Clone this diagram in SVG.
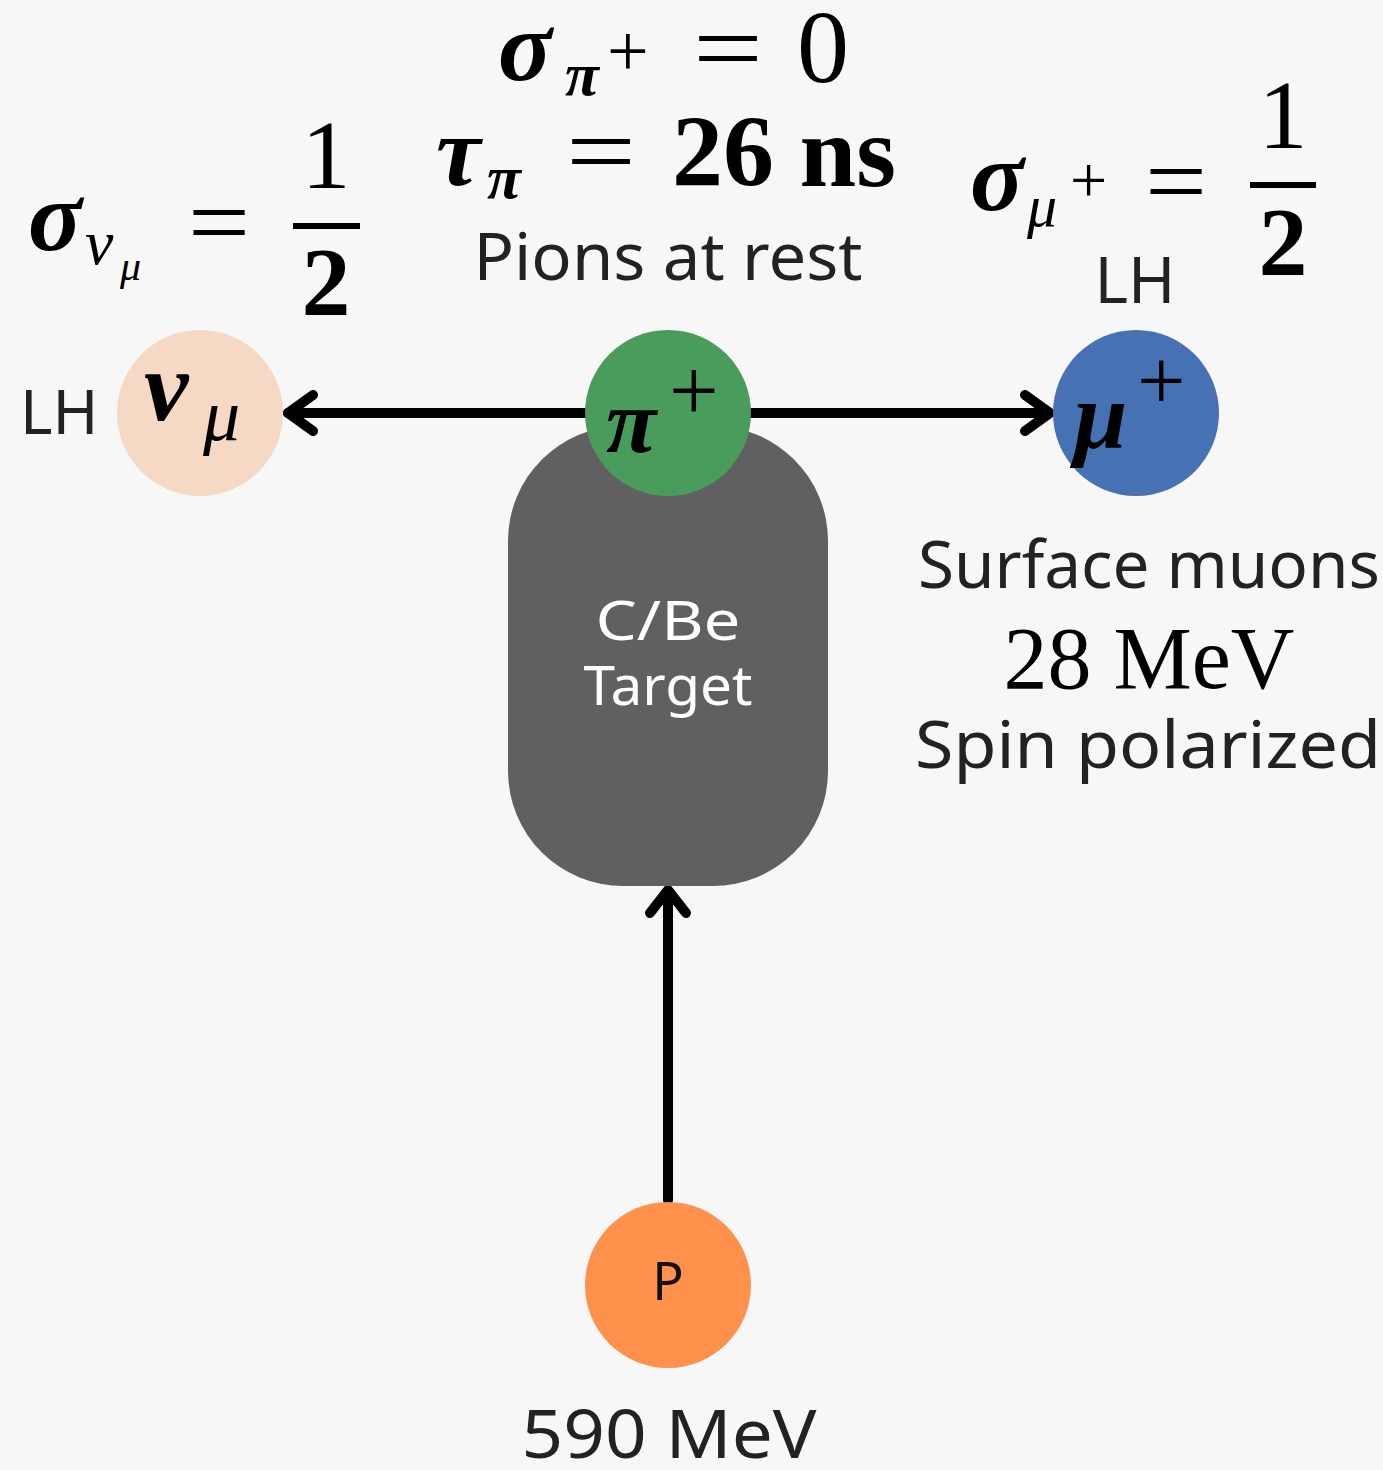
<svg xmlns="http://www.w3.org/2000/svg" width="1383" height="1470" viewBox="0 0 1383 1470">
<defs>
<style>
.sans{font-family:"Noto Sans","Lato","DejaVu Sans",sans-serif;fill:#222;}
.m{font-family:"Liberation Serif","DejaVu Serif",serif;fill:#000;}
.mi{font-family:"Liberation Serif","DejaVu Serif",serif;font-style:italic;fill:#000;}
.conn{fill:none;stroke:#000;stroke-width:10;stroke-linecap:round;stroke-linejoin:round;}
</style>
</defs>
<rect width="1383" height="1470" fill="#f7f7f7"/>

<g id="top-formula">
<text class="mi" x="498" y="80" font-size="100" font-weight="bold">σ</text>
<text class="mi" x="565" y="95" font-size="62" font-weight="bold">π</text>
<text class="m" x="607" y="76" font-size="74">+</text>
<text class="m" x="693" y="82" font-size="100" textLength="70" lengthAdjust="spacingAndGlyphs">=</text>
<text class="m" x="797" y="82" font-size="104">0</text>
<text class="mi" x="436" y="185" font-size="100" font-weight="bold">τ</text>
<text class="mi" x="487" y="198" font-size="62" font-weight="bold">π</text>
<text class="m" x="566" y="185" font-size="100" textLength="70" lengthAdjust="spacingAndGlyphs">=</text>
<text class="m" x="672" y="186" font-size="102" font-weight="bold">26 ns</text>
<text class="sans" x="668" y="280" font-size="66" text-anchor="middle" textLength="389" lengthAdjust="spacingAndGlyphs">Pions at rest</text>
</g>

<g id="left-formula">
<text class="mi" x="28" y="250" font-size="100" font-weight="bold">σ</text>
<text class="mi" x="85" y="264" font-size="64">ν</text>
<text class="mi" x="120" y="280" font-size="42">μ</text>
<text class="m" x="188" y="256" font-size="100" textLength="62" lengthAdjust="spacingAndGlyphs">=</text>
<text class="m" x="326" y="188" font-size="98" text-anchor="middle">1</text>
<rect x="293" y="223" width="67" height="6" fill="#000"/>
<text class="m" x="326" y="315" font-size="98" text-anchor="middle" font-weight="bold">2</text>
</g>

<g id="right-formula">
<text class="mi" x="970" y="210" font-size="100" font-weight="bold">σ</text>
<text class="mi" x="1027" y="226" font-size="60">μ</text>
<text class="m" x="1070" y="202" font-size="66">+</text>
<text class="m" x="1145" y="215" font-size="100" textLength="62" lengthAdjust="spacingAndGlyphs">=</text>
<text class="m" x="1283" y="148" font-size="98" text-anchor="middle">1</text>
<rect x="1250" y="182" width="66" height="6" fill="#000"/>
<text class="m" x="1283" y="275" font-size="98" text-anchor="middle" font-weight="bold">2</text>
</g>

<g id="connectors">
<line class="conn" x1="668" y1="1200" x2="668" y2="892"/>
<polyline class="conn" points="650,913 668,890 686,913"/>
<line class="conn" x1="590" y1="413" x2="288" y2="413"/>
<polyline class="conn" points="313,395 288,413 313,431"/>
<line class="conn" x1="750" y1="413" x2="1048" y2="413"/>
<polyline class="conn" points="1025,395 1050,413 1025,431"/>
</g>

<g id="target">
<rect x="508" y="426" width="320" height="460" rx="115" ry="115" fill="#606060"/>
<text class="sans" x="668" y="640" font-size="54" text-anchor="middle" style="fill:#fff" textLength="145" lengthAdjust="spacingAndGlyphs">C/Be</text>
<text class="sans" x="668" y="705" font-size="54" text-anchor="middle" style="fill:#fff" textLength="169" lengthAdjust="spacingAndGlyphs">Target</text>
</g>

<g id="nu">
<circle cx="200" cy="413" r="83" fill="#f5d9c4"/>
<text class="mi" x="144" y="420" font-size="100" font-weight="bold">ν</text>
<text class="mi" x="203" y="440" font-size="74">μ</text>
<text class="sans" x="20" y="434" font-size="62">LH</text>
</g>

<g id="pion">
<circle cx="668" cy="413" r="83" fill="#4a9c5c"/>
<text class="mi" x="606" y="452" font-size="92" font-weight="bold">π</text>
<text class="m" x="669" y="420" font-size="88">+</text>
</g>

<g id="muon">
<circle cx="1136" cy="413" r="83" fill="#4672b4"/>
<text class="mi" x="1074" y="448" font-size="96" font-weight="bold">μ</text>
<text class="m" x="1137" y="410" font-size="86">+</text>
<text class="sans" x="1135" y="303" font-size="64" text-anchor="middle">LH</text>
<text class="sans" x="1149" y="588" font-size="66" text-anchor="middle" textLength="462" lengthAdjust="spacingAndGlyphs">Surface muons</text>
<text class="m" x="1149" y="688" font-size="88" text-anchor="middle">28 MeV</text>
<text class="sans" x="1148" y="768" font-size="66" text-anchor="middle" textLength="466" lengthAdjust="spacingAndGlyphs">Spin polarized</text>
</g>

<g id="proton">
<circle cx="668" cy="1285" r="83" fill="#ff914d"/>
<text class="sans" x="668" y="1300" font-size="52" text-anchor="middle" style="fill:#111">P</text>
<text class="sans" x="669" y="1458" font-size="68" text-anchor="middle" textLength="295" lengthAdjust="spacingAndGlyphs">590 MeV</text>
</g>
</svg>
